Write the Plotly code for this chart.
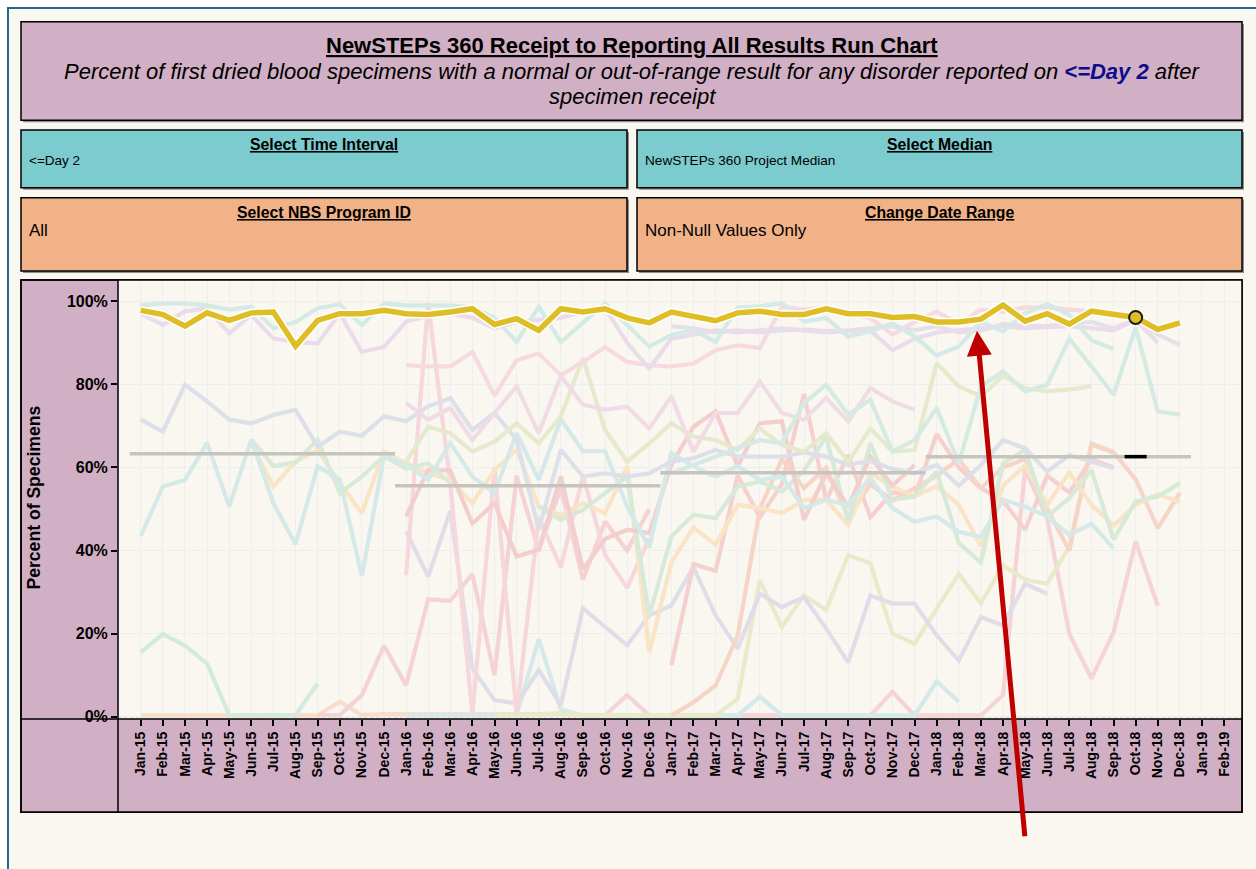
import plotly.graph_objects as go

W, H = 1256, 869
N = None

month_labels = [
    "Jan-15", "Feb-15", "Mar-15", "Apr-15", "May-15", "Jun-15", "Jul-15", "Aug-15", "Sep-15", "Oct-15", "Nov-15", "Dec-15",
    "Jan-16", "Feb-16", "Mar-16", "Apr-16", "May-16", "Jun-16", "Jul-16", "Aug-16", "Sep-16", "Oct-16", "Nov-16", "Dec-16",
    "Jan-17", "Feb-17", "Mar-17", "Apr-17", "May-17", "Jun-17", "Jul-17", "Aug-17", "Sep-17", "Oct-17", "Nov-17", "Dec-17",
    "Jan-18", "Feb-18", "Mar-18", "Apr-18", "May-18", "Jun-18", "Jul-18", "Aug-18", "Sep-18", "Oct-18", "Nov-18", "Dec-18",
    "Jan-19", "Feb-19",
]
y_ticks = [0, 20, 40, 60, 80, 100]
y_tick_labels = ["0%", "20%", "40%", "60%", "80%", "100%"]

# All programs combined (highlighted series)
all_programs = [97.8, 96.8, 94.0, 97.2, 95.4, 97.2, 97.4, 89.2, 95.4, 97.0, 97.0, 97.8,
                97.0, 96.8, 97.4, 98.2, 94.4, 95.8, 93.0, 98.2, 97.4, 98.2, 96.0, 94.8,
                97.4, 96.2, 95.3, 97.2, 97.6, 96.8, 96.8, 98.2, 97.0, 97.0, 96.1, 96.3,
                95.0, 95.0, 95.7, 99.1, 95.2, 97.0, 94.5, 97.6, 97.0, 96.1, 93.2, 94.8]
highlight_month = 45  # Oct-18

# Yearly project medians
median_values = [63.3, 55.6, 58.7, 62.6]
median_start_months = [0, 12, 24, 36]

# Individual NBS programs (faint lines)
prog_teal_a = [99, 99.5, 99.5, 99, 98, 98.7, 93.5, 95, 98.3, 99.3, 94.3, 99.5,
               99, 99, 99, 98.5, 96, 90.2, 98.7, 90.2, 95, 99.5, 94.3, 89.1,
               91.9, 93.1, 90.2, 98.5, 98.8, 99.5, 95.1, 96, 91.5, 92.7, 94.7, 91.5,
               87, 89.1, 95.1, 92.7, 97.1, 99.3, 96.7, 90.6, 88.5, N, N, N]
prog_lav_a = [97, 94.3, 97.6, 98.3, 92.3, 96.7, 91, 90.2, 89.8, 97.1, 87.8, 89,
              95.1, 96.5, 97, 96, 93.5, 95, 95.5, 96, 97.5, 98.3, 90, 83.8,
              91, 92, 93, 92.5, 93, 93.5, 93, 92.5, 92.8, 93, 88.2, 91,
              92.5, 93, 93.5, 94, 93.5, 93.8, 94, 93.5, 93, 95.5, 90, N]
prog_lav_b = [N] * 24 + [94, 93.5, 92.5, 93, 92.5, 93, 93.2, 92.8, 93, 93.5, 94, 93,
                         94, 92.5, 93, 94.5, 94, 94, 94.5, 95, 93.5, 95.5, 92, 89.5]
prog_pink_a = [N] * 12 + [84.6, 84.3, 84.3, 87.8, 77.3, 85.8, 87.4, 82.2, 85.4, 88.9, 85.4, 84.6,
                          84.3, 85, 88.2, 89.4, 88.7, 98.7, 98, 98.5, 97, 96, 92, 95,
                          97.5, 94.5, 98, 97.5, 98.5, 98.5, 98, 97.5, 96.5, N, N, N]
prog_blue_a = [71.5, 68.6, 79.9, 75.9, 71.5, 70.6, 72.6, 73.9, 65, 68.6, 67.6, 72.3,
               71.1, 74.7, 76.7, 69, 73.1, 66.6, 45, 64.2, 57.8, 58.6, 57.8, 58.6,
               61.4, 62.2, 64.2, 62.6, 62.6, 62.6, 63.6, 62.6, 60.6, 61.6, 59.6, 58.6,
               60.6, 55.6, 60.6, 66.6, 64.6, 59, 63, 61.4, 59.8, N, N, N]
prog_teal_b = [43.5, 55.4, 57, 65.9, 50.6, 66.7, 51.4, 41.5, 60.3, 57, 33.9, 62.7,
               60.7, 57, 65.9, 57.8, 53.8, 68.3, 57, 71.6, 63.9, 63.9, 50.6, 40.7,
               63.5, 60.3, 57.8, 60.3, 57, 57.8, 50.2, 52.2, 51, 57.4, 50.2, 46.9,
               48.2, 44.5, 43.3, 52.2, 50.6, 48.2, 43.7, 46.5, 40.5, N, N, N]
prog_teal_c = [N] * 24 + [58.6, 60.6, 62.6, 64.6, 66.6, 65.8, 75.5, 79.9, 72.7, 76.3, 63.8, 66.6,
                          74.3, 61, 79.5, 83.1, 78.3, 79.9, 91, 84.3, 77.5, 93.7, 73.5, 72.7]
prog_ygreen_a = [N] * 12 + [61.4, 69.8, 68.2, 63.8, 66.2, 70.6, 65.8, 72.3, 86.3, 69, 61.4, 65.8,
                            70.6, 67.4, 66.6, 64.2, 69.4, 65.4, 63.8, 68.2, 61.4, 69.4, 63.8, 64.2,
                            85.1, 79.5, 77.1, 82, 79.1, 78.3, 78.8, 79.5, N, N, N, N]
prog_green_a = [N] * 5 + [66.7, 60.3, 61.2, 66.7, 53.8, 57.8, 62.7, 59.7, 61, 56.2] + [N] * 33
prog_green_b = [N] * 18 + [50.6, 47.4, 49.8, 53.8, 57.8, 24.3,
                           43.4, 48.6, 47.8, 55.4, 56.6, 54.2, 59.2, 67.4, 47, 65.8, 52.2, 53,
                           59, 41.8, 37.1, 61, 64.2, 48.2, 52.6, 59.4, 42.6, 51.8, 53, 56.2]
prog_peach_a = [N] * 5 + [65.7, 55.4, 61.4, 64.2, 56.2, 49, 63.8,
                          61, 58.6, 57, 51.4, 59.4, 64.2, 50.6, 48.6, 51.4, 49, 60.3, 15.5,
                          37.1, 45.6, 41.4, 51, 50.2, 49, 52.2, 52.2, 46.2, 58.6, 55.4, 53,
                          55.5, 51, 41, 55.6, 60.5, 51, 58.8, 51, 46, 51, 53.6, 51.6]
prog_salmon_a = [N] * 24 + [0.3, 3.5, 7.5, 19.5, 50, 62, 55, 60, 48, 56, 52, 55,
                            58, 62, 55, 60, 62, 50, 40, 65.6, 63.6, 57.1, 45.4, 53.9]
prog_green_c = [15.5, 19.9, 17.1, 12.8, 0.4, 0.4, 0.4, 0.4, 8.0] + [N] * 39
prog_peach_b = [0.3, 0.3, 0.3, 0.3, 0.3, 0.3, 0.3, 0.3, 0.3, 3.6, 0.4, 0.6,
                0.6, 0.5, 0.4, 0.4, 0.4, 0.4, 0.6, 0.8, 0.3, 0.3] + [N] * 26
prog_pink_b = [N] * 8 + [0.4, 0.4, 5.2, 17.1, 7.6, 28.3, 27.9, 34.3, 10, 58, 40, 55,
                         33, 47, 40, 50] + [N] * 24
prog_pink_c = [N] * 12 + [34, 99.6, 56, 0.5, 60, 0.5, 48, 36, 58, 39, 31, 43] + [N] * 24
prog_red_a = [N] * 20 + [0.3, 0.3, 5.2, 0.3, 0.3, 0.3, 0.3, 0.3, 0.5, 0.3, 0.3, 0.3,
                         0.3, 0.3, 6, 0.3, 0.3, 0.3, 0.3, 5.2, 59.6, 47.7, 20, 9.2,
                         20.3, 42.2, 26.7, N]
prog_red_b = [N] * 24 + [12.4, 36.7, 35.1, 58, 48, 56, 77.7, 52, 63, 48, 54, 53,
                         68, 60, 55, 52, 45, 58, 54, 62, 60, N, N, N]
prog_red_c = [N] * 12 + [48.2, 59.4, 59.2, 46.5, 51.4, 38.6, 40.2, 57.8, 35.5, 42.8, 45, 44.2,
                         60.6, 69.8, 73.5, 60.3, 70.6, 71.1, 47.4, 58.6, 50.6, 62.6, 55.6, 60.6] + [N] * 12
prog_pinklav_a = [N] * 12 + [75.5, 71.5, 74.3, 66.6, 73.1, 79.5, 68.2, 82, 75.1, 73.9, 74.6, 69.4,
                             77.1, 63.8, 73.1, 73.1, 80.7, 73.1, 71.5, 76.7, 71.1, 79.1, 75.9, 73.9] + [N] * 12
prog_blue_b = [N] * 12 + [44.6, 33.7, 49.5, 11.6, 4, 3.2, 11.2, 2.8, 26.1, 21.6, 17.2, 24.4,
                          26.8, 36, 24.4, 16.4, 29.6, 26.4, 28.8, 21.2, 13.1, 29.2, 27.2, 27.2,
                          19.6, 13.5, 24, 22, 32, 29.6] + [N] * 6
prog_ygreen_b = [N] * 16 + [0.5, 0.5, 0.5, 0.8, 0.3, 0.3, 0.3, 0.3,
                            0.3, 0.3, 0.3, 4.3, 32.8, 21.6, 29.2, 25.7, 38.9, 36.9, 20, 17.6,
                            26.1, 34.4, 27.3, 36.4, 33, 32, 41, 65.8, 63.8] + [N] * 3
prog_cyan_a = [N] * 12 + [0.4, 0.4, 0.4, 0.4, 0.4, 0.4, 18.7, 1.8, 0.3, 0.3, 0.3, 0.3,
                          0.3, 0.3, 0.3, 0.3, 4.8, 0.3, 0.3, 0.3, 0.3, 0.3, 0.3, 0.3,
                          8.5, 3.6] + [N] * 10

faint_series = [
    (prog_peach_b, "#f7ddca"), (prog_green_c, "#d5eadf"), (prog_red_a, "#f5d3d6"),
    (prog_cyan_a, "#d4e9e9"), (prog_ygreen_b, "#e8eaca"), (prog_blue_b, "#dfdee8"),
    (prog_pink_b, "#f5d2d5"), (prog_pink_c, "#f6d7dc"), (prog_red_b, "#f4d0cf"),
    (prog_salmon_a, "#f6d5c6"), (prog_peach_a, "#f9e4c5"), (prog_green_b, "#d7e9d7"),
    (prog_red_c, "#f2cecc"), (prog_green_a, "#d9ead7"), (prog_teal_b, "#d5e9e9"),
    (prog_blue_a, "#dddfe9"), (prog_ygreen_a, "#e6eacc"), (prog_pinklav_a, "#f1dce6"),
    (prog_teal_c, "#d4eae3"), (prog_pink_a, "#f7d9e1"), (prog_lav_b, "#e5dfe9"),
    (prog_lav_a, "#eadcea"), (prog_teal_a, "#d4eae5"),
]

FONT = "Arial, Liberation Sans, sans-serif"
CREAM = "#f9f7f0"
MAUVE = "#d1afc4"
TEAL = "#7ccbce"
ORANGE = "#f2b287"


def px(x):
    return x / W


def py(y):
    return 1 - y / H


months_x = list(range(len(all_programs)))

fig = go.Figure()
for vals, col in faint_series:
    fig.add_trace(go.Scatter(x=months_x, y=vals, mode="lines",
                             line=dict(color=col, width=4.2),
                             hoverinfo="skip", showlegend=False))

for v, s in zip(median_values, median_start_months):
    fig.add_trace(go.Scatter(x=[s - 0.5, s + 11.5], y=[v, v], mode="lines",
                             line=dict(color="#c6c4bf", width=3.5),
                             hoverinfo="skip", showlegend=False))

fig.add_trace(go.Scatter(x=[highlight_month - 0.5, highlight_month + 0.5],
                         y=[median_values[3], median_values[3]], mode="lines",
                         line=dict(color="black", width=3.5),
                         hoverinfo="skip", showlegend=False))

fig.add_trace(go.Scatter(x=months_x, y=all_programs, mode="lines",
                         line=dict(color="white", width=8.5),
                         hoverinfo="skip", showlegend=False))
fig.add_trace(go.Scatter(x=months_x, y=all_programs, mode="lines",
                         line=dict(color="#dfbd24", width=5.5),
                         showlegend=False))
fig.add_trace(go.Scatter(x=[highlight_month], y=[all_programs[highlight_month]], mode="markers",
                         marker=dict(size=13, color="#dfbd24", line=dict(color="#1a1a1a", width=2)),
                         showlegend=False))


def box(x0, y0, x1, y1, fill, lw=1.5, layer="below", lc="black"):
    return dict(type="rect", xref="paper", yref="paper",
                x0=px(x0), y0=py(y0), x1=px(x1), y1=py(y1),
                fillcolor=fill, line=dict(color=lc, width=lw), layer=layer)


def hline(x0, x1, y, col="black", w=1.5):
    return dict(type="line", xref="paper", yref="paper",
                x0=px(x0), x1=px(x1), y0=py(y), y1=py(y),
                line=dict(color=col, width=w), layer="above")


def vline(x, y0, y1, col="black", w=1.5):
    return dict(type="line", xref="paper", yref="paper",
                x0=px(x), x1=px(x), y0=py(y0), y1=py(y1),
                line=dict(color=col, width=w), layer="above")


shapes = [
    dict(type="rect", xref="paper", yref="paper", x0=px(8), y0=py(8), x1=px(1270), y1=py(880),
         fillcolor=CREAM, line=dict(color="#1f6b8a", width=2), layer="below"),
    box(23, 24, 1244, 123, "#8f8f8f", lw=0),
    box(21, 22, 1242, 121, MAUVE),
    box(23, 133, 629, 191, "#8f8f8f", lw=0),
    box(21, 131, 627, 189, TEAL),
    box(639, 133, 1244, 191, "#8f8f8f", lw=0),
    box(637, 131, 1242, 189, TEAL),
    box(23, 201, 629, 275, "#8f8f8f", lw=0),
    box(21, 199, 627, 273, ORANGE),
    box(639, 201, 1244, 275, "#8f8f8f", lw=0),
    box(637, 199, 1242, 273, ORANGE),
    box(21, 282, 1242, 818, MAUVE),
    box(118, 282, 1242, 724, CREAM, lw=0),
    dict(type="line", xref="x", yref="y", x0=-1.03, x1=49.81, y0=0, y1=0,
         line=dict(color="#8a8a8a", width=1, dash="dot"), layer="below"),
    vline(118, 282, 818),
    hline(21, 1242, 724),
    dict(type="rect", xref="paper", yref="paper", x0=px(21), y0=py(282), x1=px(1242), y1=py(818),
         fillcolor="rgba(0,0,0,0)", line=dict(color="black", width=1.5), layer="above"),
]


def label(text, x, y, size, anchor="center", angle=0):
    return dict(text=text, x=px(x), y=py(y), xref="paper", yref="paper",
                xanchor=anchor, yanchor="middle", showarrow=False, textangle=angle,
                font=dict(family=FONT, size=size, color="black"))


annotations = [
    label("<b><u>NewSTEPs 360 Receipt to Reporting All Results Run Chart</u></b>", 632, 46, 22),
    label("<i>Percent of first dried blood specimens with a normal or out-of-range result for any disorder "
          "reported on <b><span style='color:#0c0c8c'>&lt;=Day 2</span></b> after</i>",
          632, 72, 22),
    label("<i>specimen receipt</i>", 632, 97, 22),
    label("<b><u>Select Time Interval</u></b>", 324, 146, 15.8),
    label("&lt;=Day 2", 27, 162, 13.5, anchor="left"),
    label("<b><u>Select Median</u></b>", 940, 146, 15.8),
    label("NewSTEPs 360 Project Median", 643, 162, 13.6, anchor="left"),
    label("<b><u>Select NBS Program ID</u></b>", 324, 214, 15.8),
    label("All", 27, 232, 17, anchor="left"),
    label("<b><u>Change Date Range</u></b>", 940, 214, 15.8),
    label("Non-Null Values Only", 643, 232, 17, anchor="left"),
    label("<b>Percent of Specimens</b>", 34, 501, 17.6, angle=-90),
    dict(text="", x=px(977), y=py(333), xref="paper", yref="paper",
         ax=48, ay=507, axref="pixel", ayref="pixel", showarrow=True,
         arrowhead=2, arrowsize=1, arrowwidth=5, arrowcolor="#c00000", standoff=0),
]

fig.update_layout(
    width=W, height=H, autosize=False,
    margin=dict(l=0, r=0, t=0, b=0, pad=0),
    paper_bgcolor="white", plot_bgcolor=CREAM,
    shapes=shapes, annotations=annotations,
    showlegend=False,
    xaxis=dict(domain=[px(118), px(1242)], range=[-1.03, 49.81],
               tickmode="array", tickvals=list(range(len(month_labels))),
               ticktext=["<b>%s</b>" % m for m in month_labels],
               tickangle=-90, tickfont=dict(family=FONT, size=14, color="black"),
               ticks="outside", ticklen=6, tickwidth=1.5, tickcolor="black",
               showgrid=True, gridcolor="#eceef0", gridwidth=1,
               zeroline=False, showline=False, fixedrange=True),
    yaxis=dict(domain=[py(724), py(282)], range=[-0.55, 105.1],
               tickmode="array", tickvals=y_ticks,
               ticktext=["<b>%s</b>" % t for t in y_tick_labels],
               tickfont=dict(family=FONT, size=16, color="black"),
               ticks="outside", ticklen=6, tickwidth=1.5, tickcolor="black",
               showgrid=True, gridcolor="#eceef0", gridwidth=1,
               zeroline=False, showline=False, fixedrange=True),
)

fig.write_html("out.html", config={"displayModeBar": False},
               post_script="document.body.style.margin='0';document.body.style.padding='0';")
